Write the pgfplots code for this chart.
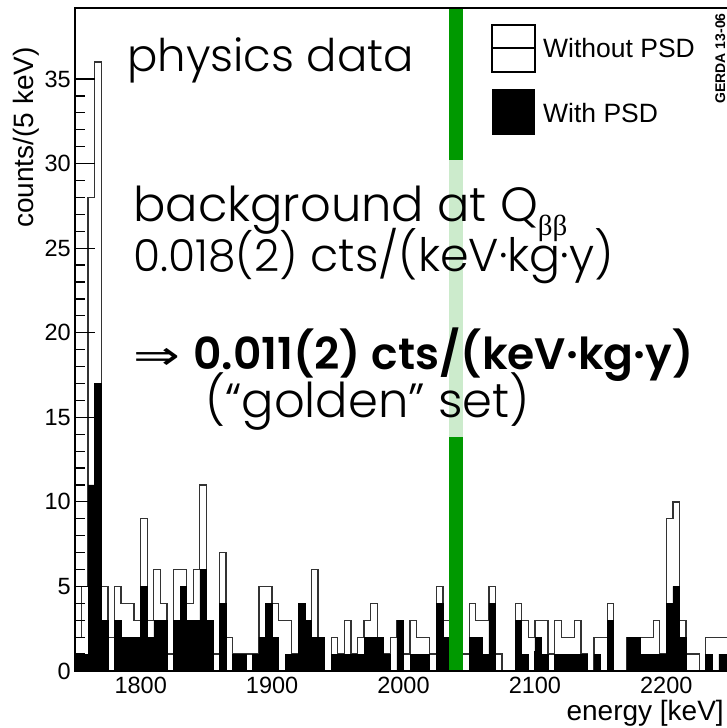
\documentclass[border=0pt]{standalone}
\usepackage{pgfplots}
\usepackage{pgfplotstable}
\pgfplotsset{compat=1.18}
\usepackage{fontspec}
\setmainfont{Liberation Sans}
\newfontfamily\gothic{Poppins Light}[BoldFont={Poppins SemiBold}]
\newfontfamily\greekfont{Liberation Serif}
\newfontfamily\symfont{DejaVu Sans}

\definecolor{qbbgreen}{RGB}{0,153,0}
\definecolor{qbblight}{RGB}{204,235,204}

% 5 keV bins: lower bin edge, counts without PSD, counts with PSD
\pgfplotstableread{
E    wo  w
1750 2  1
1755 5  1
1760 28 11
1765 36 17
1770 5  3
1775 2  0
1780 5  3
1785 4  2
1790 4  2
1795 3  2
1800 9  5
1805 3  2
1810 6  3
1815 4  3
1820 1  0
1825 6  3
1830 6  5
1835 4  3
1840 6  3
1845 11 6
1850 3  3
1855 1  0
1860 7  4
1865 2  0
1870 1  1
1875 1  1
1880 1  0
1885 1  1
1890 5  2
1895 5  4
1900 4  2
1905 3  0
1910 3  1
1915 1  1
1920 4  4
1925 3  3
1930 6  2
1935 2  2
1940 0  0
1945 2  1
1950 1  1
1955 3  1
1960 1  1
1965 2  1
1970 3  2
1975 4  2
1980 2  2
1985 1  1
1990 2  0
1995 3  3
2000 1  0
2005 3  1
2010 2  1
2015 2  1
2020 1  0
2025 5  4
2030 3  2
2035 0  0
2040 0  0
2045 1  0
2050 4  2
2055 3  2
2060 3  1
2065 5  4
2070 1  0
2075 0  0
2080 0  0
2085 4  3
2090 3  1
2095 2  0
2100 3  2
2105 3  1
2110 1  0
2115 3  1
2120 2  1
2125 2  1
2130 3  1
2135 1  1
2140 0  0
2145 2  1
2150 2  0
2155 4  3
2160 0  0
2165 0  0
2170 2  2
2175 2  2
2180 2  1
2185 2  1
2190 3  1
2195 1  1
2200 9  4
2205 10 5
2210 3  2
2215 1  0
2220 1  0
2225 0  0
2230 2  1
2235 2  0
2240 2  1
2245 2  1
2250 2  1
}\spectrum

\begin{document}
\begin{tikzpicture}[x=1pt,y=1pt]
\useasboundingbox (0,0) rectangle (727,728);
\begin{axis}[
  at={(75pt,57pt)}, anchor=south west,
  scale only axis, width=657pt, height=663pt,
  xmin=1750, xmax=2250, ymin=0, ymax=39.2,
  axis on top,
  axis line style={line width=2pt},
  xtick={1800,1900,2000,2100,2200},
  ytick={0,5,...,35},
  minor y tick num=4,
  xtick pos=bottom, ytick pos=left,
  tick align=inside,
  major tick length=20pt, minor tick length=10pt,
  tick style={line width=1.2pt, black},
  /pgf/number format/assume math mode=true,
  /pgf/number format/1000 sep={},
  tick label style={font=\fontsize{23.5}{23.5}\selectfont},
  xticklabel style={inner sep=0pt, anchor=north, yshift=-6pt},
  yticklabel style={inner sep=0pt, anchor=east, xshift=-4pt},
]
\addplot[const plot, draw=black!80, line width=1.3pt, fill=white]
  table[x=E, y=wo]{\spectrum} \closedcycle;
\addplot[const plot, draw=black, line width=0.6pt, fill=black]
  table[x=E, y=w]{\spectrum} \closedcycle;
% blinded window around Q_bb
\fill[qbbgreen] (axis cs:2035,0) rectangle (axis cs:2045,39.2);
\fill[qbblight] (axis cs:2035,13.85) rectangle (axis cs:2045,30.24);
\end{axis}

% axis titles
\node[rotate=90, anchor=north east, inner sep=0pt,
      font=\fontsize{28}{28}\selectfont] at (13,681) {counts/(5 keV)};
\node[anchor=base east, inner sep=0pt,
      font=\fontsize{28}{28}\selectfont] at (724,8) {energy [keV]};

% legend
\draw[line width=1.2pt, fill=white] (492,656) rectangle (535,703);
\draw[line width=1.2pt] (492,680) -- (535,680);
\fill[black] (492,593) rectangle (535,639);
\node[anchor=base west, inner sep=0pt, font=\fontsize{26.5}{26.5}\selectfont]
  at (543,670) {Without PSD};
\node[anchor=base west, inner sep=0pt, font=\fontsize{26.5}{26.5}\selectfont]
  at (543,605) {With PSD};
\node[rotate=90, anchor=base east, inner sep=0pt,
      font=\bfseries\fontsize{14}{14}\selectfont] at (725,715) {GERDA 13-06};

% annotations
\node[anchor=base west, inner sep=0pt, font=\gothic\fontsize{45}{45}\selectfont]
  at (127,656) {physics data};
\node[anchor=base west, inner sep=0pt, font=\gothic\fontsize{48}{48}\selectfont]
  at (133,506) {background at Q\raisebox{-0.28em}{\greekfont\fontsize{29}{29}\selectfont ββ}};
\node[anchor=base west, inner sep=0pt, font=\gothic]
  at (133,456) {\fontsize{44}{44}\selectfont 0.018(2)\fontsize{46}{46}\selectfont\ cts/(keV·kg·y)};
\node[anchor=base west, inner sep=0pt, font=\gothic]
  at (133,358) {\scalebox{1.4}[1]{\symfont\fontsize{40}{40}\selectfont ⇒}};
\node[anchor=base west, inner sep=0pt, font=\gothic\bfseries\fontsize{44}{44}\selectfont]
  at (193,358) {0.011(2) cts/(keV·kg·y)};
\node[anchor=base west, inner sep=0pt, font=\gothic\fontsize{48}{48}\selectfont]
  at (205,310) {(“golden” set)};
\end{tikzpicture}
\end{document}
